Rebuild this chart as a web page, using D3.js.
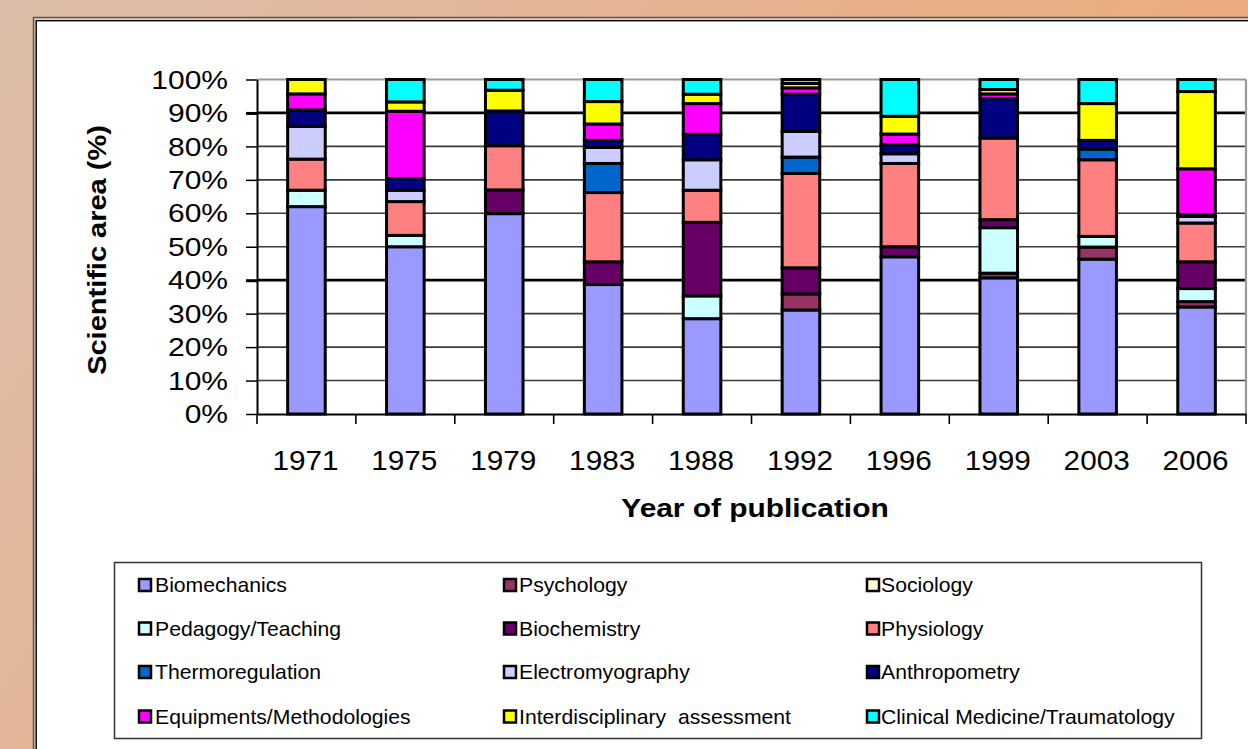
<!DOCTYPE html>
<html>
<head>
<meta charset="utf-8">
<script src="https://cdn.jsdelivr.net/npm/d3@7"></script>
<style>
  body { margin: 0; overflow: hidden; }
  text { font-family: "Liberation Sans", Arial, sans-serif; }
</style>
</head>
<body>
<div id="chart"></div>
<script>
// Chart data (percent of publications per scientific area)
const years = ["1971", "1975", "1979", "1983", "1988", "1992", "1996", "1999", "2003", "2006"];
const categories = [
    "Biomechanics", "Psychology", "Sociology",
    "Pedagogy/Teaching", "Biochemistry", "Physiology",
    "Thermoregulation", "Electromyography", "Anthropometry",
    "Equipments/Methodologies", "Interdisciplinary  assessment", "Clinical Medicine/Traumatology"
];
const colors = [
    "#9999FF", "#993366", "#FFFFCC",
    "#CCFFFF", "#660066", "#FF8080",
    "#0066CC", "#CCCCFF", "#000080",
    "#FF00FF", "#FFFF00", "#00FFFF"
];
const biomechanics      = [62, 50, 59.9, 38.7, 28.5, 31.1, 47, 40.7, 46.3, 32];
const psychology        = [0, 0, 0, 0, 0, 4.8, 0, 1.4, 3.6, 1.6];
const sociology         = [0, 0, 0, 0, 0, 0, 0, 0, 0, 0];
const pedagogy          = [4.9, 3.4, 0, 0, 6.8, 0, 0, 13.6, 3.2, 3.9];
const biochemistry      = [0, 0, 7.1, 6.8, 22, 7.8, 3, 2.4, 0, 8];
const physiology        = [9.3, 10.1, 13.2, 20.7, 9.6, 28.2, 24.9, 24.4, 22.9, 11.6];
const thermoregulation  = [0, 0, 0, 8.7, 0, 4.9, 0, 0, 3.2, 0];
const electromyography  = [9.8, 3.4, 0, 4.8, 9.1, 7.7, 2.9, 0, 0, 2];
const anthropometry     = [4.9, 3.5, 10.4, 2.1, 7.6, 11.1, 2.7, 11.8, 2.6, 0.5];
const equipments        = [4.8, 20.1, 0, 4.9, 9.2, 1.9, 3.2, 1.4, 0, 13.7];
const interdisciplinary = [4.3, 2.8, 6.2, 6.7, 2.8, 1.3, 5.3, 1.3, 11, 23.1];
const clinical          = [0, 6.7, 3.2, 6.6, 4.4, 1.2, 11, 3, 7.2, 3.6];
const yTicks = [0, 10, 20, 30, 40, 50, 60, 70, 80, 90, 100];

const seriesValues = [
    biomechanics, psychology, sociology, pedagogy, biochemistry, physiology,
    thermoregulation, electromyography, anthropometry, equipments, interdisciplinary, clinical
];

// Rows for d3.stack
const table = years.map((year, i) => {
    const row = { year };
    categories.forEach((c, k) => { row[c] = seriesValues[k][i]; });
    return row;
});

const width = 1248;
const height = 749;
const plot = { left: 257, right: 1246, top: 79.5, bottom: 414 };

const svg = d3.select("#chart").append("svg")
    .attr("width", width)
    .attr("height", height);

// Peach background gradient
const grad = svg.append("defs").append("linearGradient")
    .attr("id", "bg")
    .attr("x1", 0).attr("y1", 0).attr("x2", 1).attr("y2", 0.4);
grad.append("stop").attr("offset", "0%").attr("stop-color", "#DDBDAA");
grad.append("stop").attr("offset", "100%").attr("stop-color", "#EEA877");

svg.append("rect").attr("width", width).attr("height", height).attr("fill", "url(#bg)");

// White panel with double frame
svg.append("rect")
    .attr("x", 33.5).attr("y", 17.5)
    .attr("width", 1300).attr("height", 800)
    .attr("fill", "#E6CDBE")
    .attr("stroke", "#5E5650").attr("stroke-width", 1.5);
svg.append("rect")
    .attr("x", 36.2).attr("y", 20.7)
    .attr("width", 1300).attr("height", 800)
    .attr("fill", "#FFFFFF")
    .attr("stroke", "#000").attr("stroke-width", 1.4);

// Scales
const x = d3.scaleBand()
    .domain(years)
    .range([plot.left, plot.right])
    .paddingInner(0.62)
    .paddingOuter(0.31);

const y = d3.scaleLinear()
    .domain([0, 100])
    .range([plot.bottom, plot.top]);

// Grid lines
yTicks.filter(t => t > 0).forEach(t => {
    const heavy = t === 40 || t === 90;
    svg.append("line")
        .attr("x1", plot.left).attr("x2", plot.right)
        .attr("y1", y(t)).attr("y2", y(t))
        .attr("stroke", t === 100 ? "#999" : (heavy ? "#000" : "#3A3A3A"))
        .attr("stroke-width", t === 100 ? 2.2 : (heavy ? 2.8 : 1.6));
});

// Right border of plot area
svg.append("line")
    .attr("x1", plot.right).attr("x2", plot.right)
    .attr("y1", plot.top).attr("y2", plot.bottom)
    .attr("stroke", "#999").attr("stroke-width", 2.2);

// Stacked bars
const stacked = d3.stack().keys(categories)(table);

stacked.forEach((layer, k) => {
    svg.append("g")
        .selectAll("rect")
        .data(layer.filter(d => d[1] - d[0] > 0))
        .join("rect")
        .attr("x", d => x(d.data.year))
        .attr("y", d => y(d[1]))
        .attr("width", x.bandwidth())
        .attr("height", d => y(d[0]) - y(d[1]))
        .attr("fill", colors[k])
        .attr("stroke", "#000")
        .attr("stroke-width", 3);
});

// Y axis
const yAxis = svg.append("g")
    .attr("transform", `translate(${plot.left},0)`)
    .attr("font-size", null).attr("font-family", null)
    .call(d3.axisLeft(y).tickValues(yTicks).tickSize(11).tickSizeOuter(0).tickFormat(d => d + "%"));

yAxis.select(".domain").attr("stroke", "#000").attr("stroke-width", 2);
yAxis.selectAll(".tick line")
    .attr("stroke", "#000")
    .attr("stroke-width", d => (d === 40 || d === 90) ? 3 : 1.5);
yAxis.selectAll(".tick text")
    .attr("x", null).attr("dy", null)
    .attr("fill", "#000")
    .attr("text-anchor", "end")
    .attr("dominant-baseline", "central")
    .attr("transform", "translate(-29,0) scale(1.2,1)")
    .style("font-size", "25px");

// X axis: line, boundary ticks and labels
const xAxis = svg.append("g")
    .attr("transform", `translate(0,${plot.bottom})`)
    .attr("font-size", null).attr("font-family", null)
    .call(d3.axisBottom(x).tickSize(0).tickSizeOuter(0));

xAxis.select(".domain").attr("stroke", "#000").attr("stroke-width", 2);
xAxis.selectAll(".tick text")
    .attr("y", null).attr("dy", null)
    .attr("fill", "#000")
    .style("font-size", "27px")
    .attr("transform", "translate(-1,56) scale(1.1,1)");

d3.range(years.length + 1).forEach(i => {
    const bx = plot.left + i * x.step();
    svg.append("line")
        .attr("x1", bx).attr("x2", bx)
        .attr("y1", plot.bottom).attr("y2", plot.bottom + 10)
        .attr("stroke", "#000").attr("stroke-width", 1.6);
});

// Axis titles
svg.append("text")
    .attr("transform", "translate(97,250) rotate(-90) scale(1.16,1)")
    .attr("text-anchor", "middle")
    .attr("dominant-baseline", "central")
    .attr("font-weight", "bold")
    .style("font-size", "25px")
    .text("Scientific area (%)");

svg.append("text")
    .attr("transform", "translate(755,517) scale(1.15,1)")
    .attr("text-anchor", "middle")
    .attr("font-weight", "bold")
    .style("font-size", "26px")
    .text("Year of publication");

// Legend
svg.append("rect")
    .attr("x", 114.5).attr("y", 562.5)
    .attr("width", 1087).attr("height", 176)
    .attr("fill", "#fff")
    .attr("stroke", "#333").attr("stroke-width", 1.5);

const markerX = [139, 504, 867];
const labelX = [155, 519, 881];
const rowY = [585, 628.5, 672, 716.5];

categories.forEach((c, k) => {
    const col = k % 3;
    const row = Math.floor(k / 3);
    svg.append("rect")
        .attr("x", markerX[col]).attr("y", rowY[row] - 6)
        .attr("width", 12).attr("height", 12)
        .attr("fill", colors[k])
        .attr("stroke", "#000").attr("stroke-width", 2.5);
    svg.append("text")
        .attr("transform", `translate(${labelX[col]},${rowY[row]}) scale(1.06,1)`)
        .attr("dominant-baseline", "central")
        .style("font-size", "20px")
        .style("white-space", "pre")
        .text(c);
});
</script>
</body>
</html>
